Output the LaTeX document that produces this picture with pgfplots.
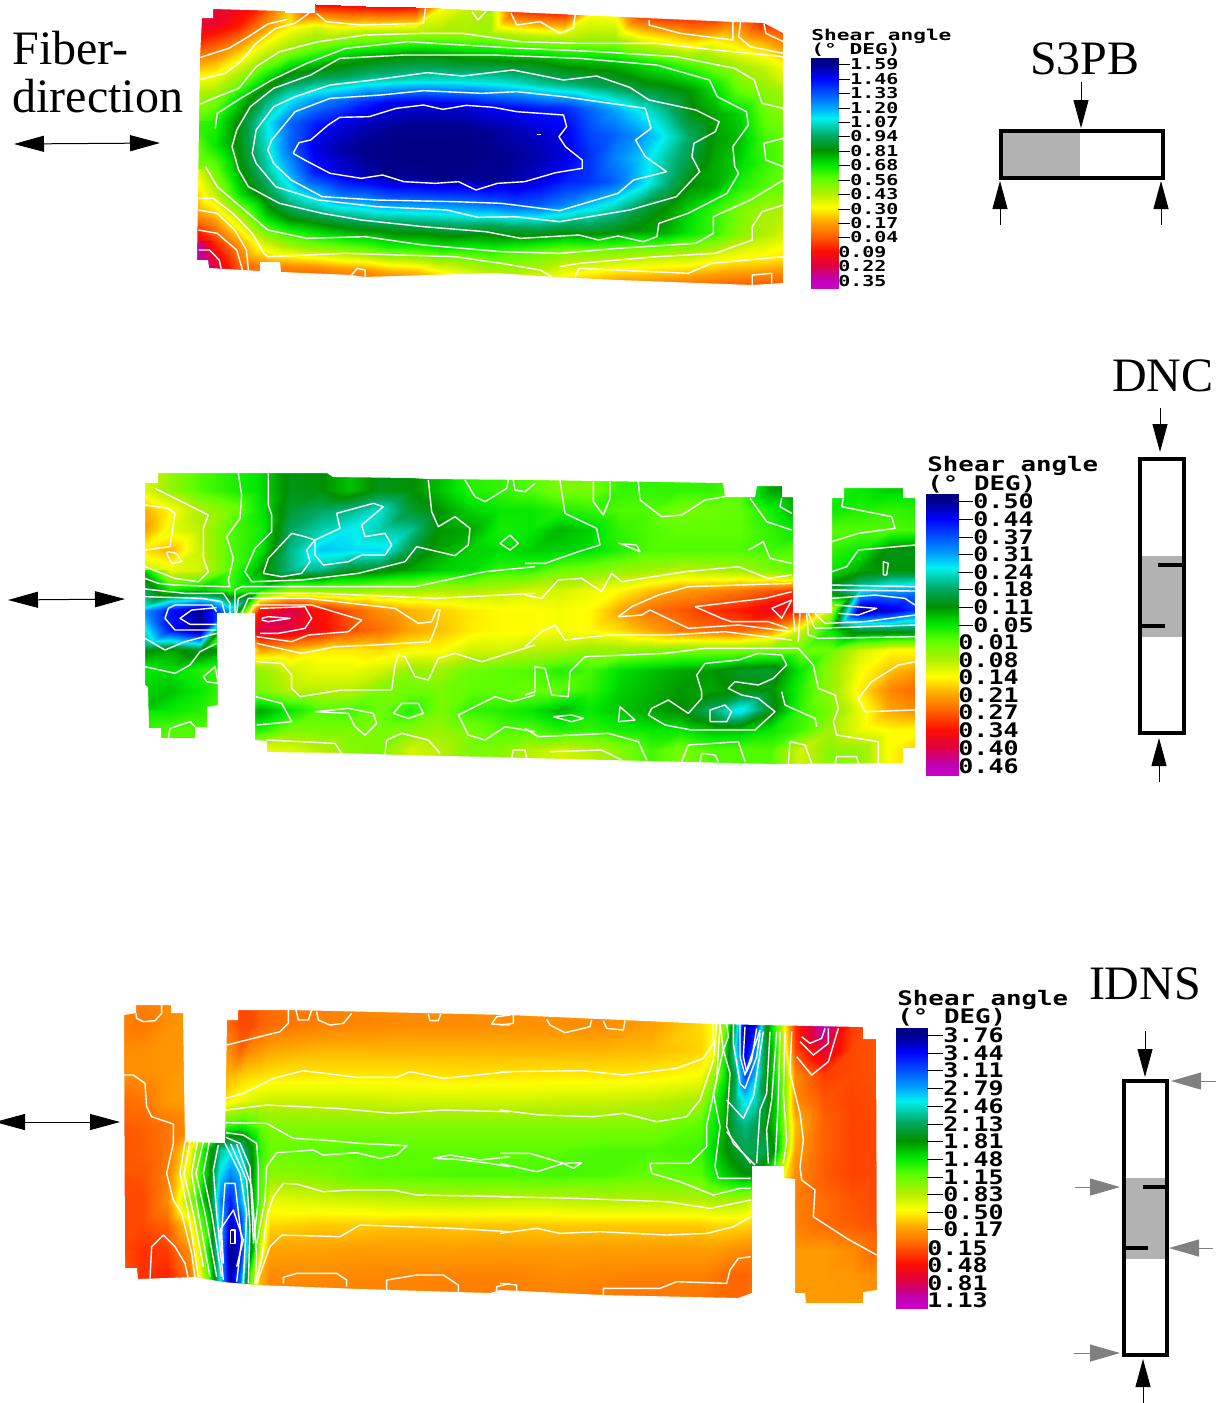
\documentclass[border=0pt]{standalone}
\usepackage{graphicx}
\usepackage{fontspec}
\setmainfont{Liberation Serif}
\newfontfamily\lbf{DejaVu Sans Mono}
\usepackage{pgfplots}
\pgfplotsset{compat=1.18}
\usetikzlibrary{arrows.meta}
\pgfplotsset{
 colormap={cm}{rgb255(0)=(0,0,128) rgb255(25)=(0,0,144) rgb255(87)=(0,0,255) rgb255(150)=(0,80,255) rgb255(212)=(0,160,255) rgb255(262)=(0,240,240) rgb255(337)=(0,168,96) rgb255(400)=(0,144,0) rgb255(462)=(0,232,0) rgb255(525)=(96,255,0) rgb255(587)=(176,240,0) rgb255(650)=(255,255,0) rgb255(712)=(255,165,0) rgb255(775)=(255,96,0) rgb255(837)=(255,16,0) rgb255(900)=(224,0,64) rgb255(962)=(192,0,176) rgb255(1000)=(204,0,204)},
 base/.style={x=0.5pt,y=0.5pt,y dir=reverse,xmin=0,xmax=1220,ymin=0,ymax=1403,hide axis,clip=false,
   anchor=north west,at={(0,0)},colormap name=cm,point meta=explicit},
 ct/.style={white,line width=0.7pt,no markers,line join=round,sharp plot},
 table/za/.style={row sep=crcr,header=false,x expr={\thisrowno{0}/2.57+190},y expr={\thisrowno{1}/3}},
 table/zb/.style={row sep=crcr,header=false,x expr={\thisrowno{0}/3+135},y expr={\thisrowno{1}/3+465}},
 table/zc/.style={row sep=crcr,header=false,x expr={\thisrowno{0}/3+525},y expr={\thisrowno{1}/3+465}},
 table/zd/.style={row sep=crcr,header=false,x expr={\thisrowno{0}/3+110},y expr={\thisrowno{1}/3+1000}},
 table/ze/.style={row sep=crcr,header=false,x expr={\thisrowno{0}/3+500},y expr={\thisrowno{1}/3+1000}},
}
\newcommand\Ca[1]{\addplot[ct] table[za]{#1};}
\newcommand\Cb[1]{\addplot[ct] table[zb]{#1};}
\newcommand\Cc[1]{\addplot[ct] table[zc]{#1};}
\newcommand\Cd[1]{\addplot[ct] table[zd]{#1};}
\newcommand\Ce[1]{\addplot[ct] table[ze]{#1};}
\newcommand\smallL[2][1.33]{{\lbf\bfseries\fontsize{7.5}{8}\selectfont\scalebox{#1}[1]{#2}}}
\newcommand\bigL[2][1.25]{{\lbf\bfseries\fontsize{10}{11}\selectfont\scalebox{#1}[1]{#2}}}
\newcommand\tkA[2]{\draw[black,line width=0.5pt](axis cs:838,#1)--(axis cs:850,#1);\node[anchor=west,inner sep=0pt] at (axis cs:850,#1) {\smallL{#2}};}
\newcommand\lbA[2]{\node[anchor=west,inner sep=0pt] at (axis cs:838,#1) {\smallL{#2}};}
\newcommand\tkB[2]{\draw[black,line width=0.5pt](axis cs:958,#1)--(axis cs:973,#1);\node[anchor=west,inner sep=0pt] at (axis cs:973,#1) {\bigL{#2}};}
\newcommand\lbB[2]{\node[anchor=west,inner sep=0pt] at (axis cs:958,#1) {\bigL{#2}};}
\newcommand\tkC[2]{\draw[black,line width=0.5pt](axis cs:927,#1)--(axis cs:943,#1);\node[anchor=west,inner sep=0pt] at (axis cs:943,#1) {\bigL{#2}};}
\newcommand\lbC[2]{\node[anchor=west,inner sep=0pt] at (axis cs:927,#1) {\bigL{#2}};}
\tikzset{bk/.style={-{Triangle[length=14pt,width=7.5pt]},line width=0.5pt,black},
 gy/.style={-{Triangle[length=15pt,width=8.5pt]},line width=0.5pt,gray},
 dbl/.style={{Triangle[length=15pt,width=8pt]}-{Triangle[length=15pt,width=8pt]},line width=0.5pt,black},
 big/.style={font=\fontsize{24}{27}\selectfont,inner sep=0pt}}
\begin{document}
\begin{tikzpicture}
\path[use as bounding box] (0,0) rectangle (610pt,-701.5pt);
%%%%%%%%%%%%%%%%%%%% S3PB
\begin{axis}[base,point meta min=-1.64,point meta max=0.41]
\addplot[surf,shader=interp,mesh/cols=25] table[row sep=crcr,header=false,meta index=0,
  x expr={190+25*mod(\coordindex,25)},
  y expr={24*floor(\coordindex/25)+0.825*mod(\coordindex,25)}] {
.2\\.2\\.15\\.05\\-.2\\.1\\.1\\.1\\.1\\.08\\-.3\\-.4\\-.45\\.02\\.05\\.08\\-.3\\-.3\\.02\\.05\\.05\\.05\\-.05\\.1\\.1\\
.18\\.15\\.05\\-.15\\-.3\\-.38\\-.35\\-.4\\-.42\\-.42\\-.45\\-.45\\-.47\\-.43\\-.42\\-.4\\-.45\\-.45\\-.35\\-.3\\-.25\\-.3\\-.25\\-.2\\-.1\\
0\\-.08\\-.22\\-.38\\-.5\\-.6\\-.7\\-.75\\-.8\\-.82\\-.82\\-.8\\-.8\\-.8\\-.8\\-.75\\-.75\\-.75\\-.7\\-.65\\-.6\\-.52\\-.45\\-.4\\-.3\\
-.25\\-.3\\-.45\\-.65\\-.85\\-.9\\-.94\\-1.0\\-1.03\\-1.05\\-1.07\\-1.08\\-1.08\\-1.06\\-1.02\\-.98\\-.95\\-.92\\-.87\\-.85\\-.8\\-.7\\-.55\\-.5\\-.45\\
-.45\\-.5\\-.72\\-.95\\-1.1\\-1.22\\-1.3\\-1.4\\-1.48\\-1.5\\-1.5\\-1.5\\-1.46\\-1.45\\-1.42\\-1.4\\-1.3\\-1.2\\-1.1\\-1.0\\-.85\\-.78\\-.72\\-.55\\-.5\\
-.55\\-.65\\-.85\\-1.08\\-1.3\\-1.42\\-1.5\\-1.55\\-1.58\\-1.6\\-1.6\\-1.6\\-1.58\\-1.55\\-1.52\\-1.48\\-1.35\\-1.3\\-1.22\\-1.1\\-.95\\-.8\\-.75\\-.6\\-.55\\
-.6\\-.68\\-.85\\-1.05\\-1.3\\-1.5\\-1.56\\-1.6\\-1.62\\-1.63\\-1.63\\-1.63\\-1.6\\-1.58\\-1.55\\-1.5\\-1.38\\-1.25\\-1.15\\-1.02\\-.9\\-.78\\-.72\\-.62\\-.55\\
-.45\\-.55\\-.8\\-1.0\\-1.2\\-1.42\\-1.5\\-1.55\\-1.6\\-1.6\\-1.62\\-1.6\\-1.6\\-1.56\\-1.5\\-1.42\\-1.38\\-1.3\\-1.15\\-.98\\-.82\\-.78\\-.65\\-.58\\-.55\\
-.3\\-.42\\-.7\\-.88\\-1.05\\-1.15\\-1.25\\-1.25\\-1.3\\-1.3\\-1.3\\-1.3\\-1.32\\-1.35\\-1.32\\-1.25\\-1.15\\-1.05\\-.92\\-.82\\-.72\\-.62\\-.52\\-.45\\-.42\\
-.1\\-.2\\-.42\\-.7\\-.82\\-.85\\-.9\\-.93\\-.93\\-.95\\-.95\\-.95\\-.92\\-.93\\-.93\\-.9\\-.9\\-.85\\-.8\\-.78\\-.68\\-.62\\-.5\\-.43\\-.35\\
.18\\.02\\-.18\\-.4\\-.5\\-.55\\-.58\\-.6\\-.65\\-.65\\-.68\\-.65\\-.65\\-.6\\-.55\\-.5\\-.5\\-.48\\-.45\\-.42\\-.4\\-.35\\-.3\\-.28\\-.25\\
.38\\.2\\-.05\\-.12\\-.12\\-.12\\-.15\\-.15\\-.2\\-.22\\-.3\\-.35\\-.42\\-.42\\-.38\\-.3\\-.25\\-.2\\-.18\\-.15\\-.12\\-.1\\-.08\\-.05\\-.05\\
.38\\.15\\-.02\\.05\\.05\\.05\\.05\\.05\\.05\\.03\\0\\-.1\\-.1\\-.12\\-.1\\-.1\\-.05\\.05\\.05\\.05\\.05\\.05\\.05\\.05\\.05\\
};
\addplot[fill=white,draw=none,even odd rule] coordinates {(185,-5)(800,-5)(800,312)(185,312)(185,-5)
(202,18)(213,18)(213,9)(285,11)(285,13)(315,13)(315,3)(423,7)(470,10)(579,15)(735,22)(764,23)(783,33)(783,283)(752,285)(618,280)(556,277)(494,273)(365,277)(351,275)(281,272)(280,262)(260,262)(260,271)(209,268)(208,260)(197,260)(200,57)(202,18)(185,-5)};
\Ca{27 172\\100 145\\150 110\\200 72\\250 58\\}
\Ca{27 238\\90 220\\130 185\\170 130\\220 85\\270 70\\305 40\\}
\Ca{27 312\\60 295\\125 265\\170 200\\230 155\\330 125\\450 105\\600 100\\700 100\\850 125\\1000 130\\1200 130\\1350 150\\1525 170\\}
\Ca{65 385\\70 340\\130 295\\210 240\\300 190\\400 145\\560 125\\700 135\\850 145\\1050 155\\1250 170\\1400 205\\1450 240\\1470 310\\1525 325\\}
\Ca{108 440\\120 390\\155 320\\215 265\\310 225\\385 175\\550 165\\780 165\\1000 175\\1200 195\\1335 240\\1355 290\\1430 335\\1435 375\\1395 440\\1400 500\\1410 520\\1380 580\\1280 640\\1205 670\\1200 710\\1165 725\\1100 708\\1050 720\\1000 705\\850 715\\760 695\\600 680\\440 660\\340 640\\230 610\\150 560\\125 510\\108 440\\}
\Ca{160 460\\170 390\\215 320\\270 290\\360 255\\470 240\\610 218\\700 228\\830 210\\960 240\\1045 228\\1130 262\\1180 300\\1300 330\\1360 365\\1350 395\\1295 430\\1290 470\\1310 515\\1250 590\\1130 630\\950 665\\835 650\\740 652\\660 630\\480 620\\330 600\\220 560\\170 490\\160 460\\}
\Ca{210 420\\270 335\\360 295\\490 285\\600 272\\750 280\\840 275\\960 290\\1050 305\\1170 325\\1185 385\\1145 420\\1170 470\\1225 515\\1140 540\\1100 580\\950 632\\800 610\\680 605\\480 600\\340 590\\260 540\\215 490\\200 450\\210 420\\}
\Ca{265 460\\280 428\\310 420\\355 375\\385 352\\460 350\\530 325\\600 315\\650 328\\710 316\\780 322\\840 335\\960 345\\968 380\\948 410\\965 440\\1008 480\\1008 505\\940 518\\860 545\\790 550\\735 570\\690 545\\630 550\\550 545\\495 525\\440 535\\360 520\\295 480\\265 460\\}
\Ca{40 500\\70 560\\130 620\\200 690\\300 715\\450 710\\600 735\\800 755\\950 760\\1100 745\\1300 730\\1345 700\\1345 650\\1440 600\\1525 540\\}
\Ca{22 595\\60 595\\110 640\\160 700\\190 760\\200 770\\400 760\\680 770\\800 790\\900 810\\930 830\\}
\Ca{22 630\\70 640\\115 690\\145 750\\150 810\\}
\Ca{22 690\\70 700\\120 750\\135 810\\}
\Ca{22 750\\50 750\\75 780\\80 805\\}
\Ca{1180 60\\1180 75\\1260 100\\1395 120\\1395 65\\}
\Ca{1415 65\\1410 110\\1440 140\\1525 160\\}
\Ca{1475 70\\1480 100\\1525 125\\}
\Ca{325 40\\350 65\\440 75\\600 70\\605 25\\}
\Ca{725 35\\740 60\\760 35\\}
\Ca{825 40\\840 75\\900 65\\950 100\\985 85\\990 45\\}
\Ca{990 830\\1000 805\\1280 820\\1340 790\\1525 770\\}
\Ca{1445 855\\1445 825\\1495 820\\1495 850\\}
\Ca{415 825\\430 805\\450 810\\450 830\\}
\Ca{1525 415\\1475 430\\1480 480\\1525 500\\}
\Ca{1525 615\\1470 635\\1445 680\\1445 720\\1350 760\\1200 770\\1000 790\\950 800\\}
\Ca{892 403\\902 403\\}
\addplot[surf,shader=interp,mesh/cols=2] table[row sep=crcr,header=false,meta index=0,
  x expr={811+27*mod(\coordindex,2)},y expr={58+(\thisrowno{0}+1.64)/2.05*230}] {
-1.64\\-1.64\\-1.59\\-1.59\\-1.46\\-1.46\\-1.33\\-1.33\\-1.20\\-1.20\\-1.07\\-1.07\\-.94\\-.94\\-.81\\-.81\\-.68\\-.68\\-.56\\-.56\\-.43\\-.43\\-.30\\-.30\\-.17\\-.17\\-.04\\-.04\\.09\\.09\\.22\\.22\\.35\\.35\\.41\\.41\\};
\node[anchor=west,inner sep=0pt] at (axis cs:811,36) {\smallL[1.41]{Shear angle}};
\node[anchor=west,inner sep=0pt] at (axis cs:811,50) {\smallL[1.41]{(° DEG)}};
\tkA{64}{1.59}\tkA{79}{1.46}\tkA{93}{1.33}\tkA{108}{1.20}\tkA{122}{1.07}\tkA{136}{0.94}\tkA{151}{0.81}\tkA{165}{0.68}\tkA{180}{0.56}\tkA{194}{0.43}\tkA{209}{0.30}\tkA{223}{0.17}\tkA{237}{0.04}
\lbA{252}{0.09}\lbA{266}{0.22}\lbA{281}{0.35}
\node[big,anchor=west] at (axis cs:12,48) {Fiber-};
\node[big,anchor=west] at (axis cs:12,96) {direction};
\node[big] at (axis cs:1085,59) {S3PB};
\draw[dbl] (axis cs:14,144)--(axis cs:160,143);
\fill[black!30] (axis cs:1001,131) rectangle (axis cs:1080,178);
\draw[line width=2pt] (axis cs:1001,131) rectangle (axis cs:1163,178);
\draw[bk] (axis cs:1081,82)--(axis cs:1081,128);
\draw[bk] (axis cs:1000,225)--(axis cs:1000,181);
\draw[bk] (axis cs:1161,225)--(axis cs:1161,181);
\end{axis}
%%%%%%%%%%%%%%%%%%%% DNC
\begin{axis}[base,point meta min=-0.522,point meta max=0.492]
\addplot[surf,shader=interp,mesh/cols=27] table[row sep=crcr,header=false,meta index=0,
  x expr={140+30*mod(\coordindex,27)},y expr={470+20*floor(\coordindex/27)}] {
.12\\.05\\0\\-.03\\-.06\\-.13\\-.12\\-.08\\-.13\\-.12\\-.08\\-.03\\-.02\\0\\.03\\.03\\-.02\\-.02\\-.02\\-.02\\0\\-.1\\-.12\\-.03\\-.05\\-.07\\-.07\\
.12\\.05\\0\\-.03\\-.06\\-.13\\-.12\\-.08\\-.13\\-.12\\-.08\\-.03\\-.02\\0\\.03\\.03\\-.02\\-.02\\-.02\\-.02\\0\\-.1\\-.12\\-.03\\-.05\\-.07\\-.07\\
.2\\.14\\.07\\.03\\-.05\\-.15\\-.18\\-.2\\-.24\\-.15\\-.11\\-.07\\-.05\\-.05\\-.03\\-.02\\0\\0\\.03\\.02\\.01\\-.04\\-.1\\-.05\\-.03\\-.02\\-.03\\
.22\\.12\\.08\\0\\-.04\\-.18\\-.22\\-.26\\-.22\\-.21\\-.11\\-.1\\-.04\\-.05\\-.09\\-.07\\-.02\\0\\.01\\.01\\.01\\-.02\\-.05\\0\\0\\0\\-.01\\
.15\\.19\\.09\\0\\-.05\\-.2\\-.28\\-.27\\-.27\\-.16\\-.1\\-.07\\-.06\\-.07\\-.07\\-.06\\-.03\\0\\0\\0\\0\\-.01\\0\\-.02\\-.05\\-.13\\-.13\\
.08\\.12\\.1\\0\\-.1\\-.2\\-.2\\-.14\\-.13\\-.1\\-.07\\-.06\\-.02\\-.02\\.02\\.03\\.05\\.06\\.08\\.07\\.06\\.03\\0\\-.05\\-.1\\-.12\\-.12\\
-.1\\-.05\\-.08\\-.02\\-.04\\.05\\.04\\.04\\.06\\.06\\.07\\.07\\.08\\.1\\.1\\.12\\.14\\.18\\.21\\.22\\.24\\.27\\.3\\-.15\\-.25\\-.3\\-.32\\
-.28\\-.42\\-.49\\-.3\\.33\\.4\\.33\\.27\\.22\\.19\\.17\\.15\\.14\\.14\\.13\\.14\\.2\\.25\\.27\\.3\\.32\\.36\\.32\\.1\\-.5\\-.46\\-.38\\
-.3\\-.42\\-.5\\.1\\.4\\.38\\.34\\.28\\.25\\.2\\.18\\.15\\.14\\.14\\.13\\.14\\.16\\.2\\.24\\.25\\.26\\.22\\.1\\-.05\\-.15\\-.15\\-.15\\
-.13\\-.1\\-.14\\-.1\\.2\\.18\\.15\\.15\\.16\\.14\\.14\\.1\\.1\\.08\\.07\\.05\\.05\\.04\\.03\\.03\\.03\\.02\\.02\\.02\\.1\\.14\\.14\\
-.05\\-.06\\-.03\\0\\.05\\.1\\.12\\.12\\.1\\.05\\.06\\.02\\.01\\0\\-.03\\-.01\\-.06\\-.08\\-.1\\-.11\\-.14\\-.15\\-.05\\.05\\.13\\.18\\.21\\
-.05\\-.08\\-.05\\0\\.03\\.08\\.08\\.08\\.03\\.02\\.03\\.01\\.01\\.02\\.01\\-.02\\-.07\\-.09\\-.11\\-.1\\-.12\\-.12\\-.03\\.05\\.15\\.23\\.26\\
-.08\\-.05\\-.03\\0\\-.1\\-.05\\0\\-.01\\.02\\-.03\\.03\\-.02\\-.03\\-.05\\-.09\\-.05\\-.08\\-.1\\-.12\\-.18\\-.27\\-.14\\-.02\\.03\\.12\\.2\\.22\\
-.05\\0\\0\\0\\-.03\\.03\\.03\\.03\\.03\\.04\\.05\\.03\\0\\0\\-.03\\-.02\\-.04\\-.05\\-.05\\-.08\\-.08\\-.05\\-.01\\.06\\.12\\.14\\.14\\
0\\0\\0\\.08\\.12\\.11\\.08\\.04\\.03\\.1\\.08\\.03\\.04\\.08\\.1\\.08\\.04\\-.01\\.03\\0\\0\\0\\.1\\.04\\.05\\.14\\.18\\
0\\0\\0\\.08\\.12\\.11\\.08\\.04\\.03\\.1\\.08\\.03\\.04\\.08\\.1\\.08\\.04\\-.01\\.03\\0\\0\\0\\.1\\.04\\.05\\.14\\.18\\
};
\addplot[fill=white,draw=none,even odd rule] coordinates {(135,465)(925,465)(925,775)(135,775)(135,465)
(145,483)(158,483)(158,473)(327,473)(333,477)(412,478)(428,479)(535,480)(723,483)(725,497)(755,497)(757,486)(782,486)(782,497)(793,497)(793,613)(832,613)(832,498)(844,498)(844,488)(903,488)(903,498)(915,498)(915,748)(903,748)(903,763)(773,764)(525,758)(493,757)(402,755)(342,753)(267,752)(267,741)(255,740)(255,613)(217,613)(218,705)(207,707)(207,727)(195,727)(195,738)(161,738)(161,728)(149,728)(148,687)(145,685)(145,483)(135,465)};
\Cb{30 120\\100 130\\120 145\\105 245\\30 255\\}
\Cb{100 260\\125 265\\140 290\\110 295\\95 265\\100 260\\}
\Cb{60 70\\130 105\\220 150\\205 190\\205 280\\220 320\\190 350\\120 340\\30 305\\}
\Cb{310 25\\320 90\\315 160\\275 215\\295 280\\280 345\\285 365\\270 365\\120 360\\70 355\\30 340\\}
\Cb{30 372\\150 385\\265 385\\285 415\\285 445\\}
\Cb{30 395\\200 400\\260 410\\270 445\\}
\Cb{400 25\\400 120\\410 150\\410 200\\360 250\\330 320\\350 350\\500 345\\670 325\\810 290\\845 245\\960 272\\1000 240\\1005 190\\960 155\\910 185\\890 140\\880 45\\}
\Cb{990 45\\1020 95\\1050 110\\1115 70\\1120 45\\}
\Cb{1135 45\\1140 75\\1170 80\\1200 55\\}
\Cb{385 325\\400 280\\470 205\\510 215\\540 225\\615 190\\605 145\\715 115\\745 125\\680 180\\690 215\\750 205\\770 240\\750 270\\680 270\\640 290\\565 300\\540 270\\540 225\\515 255\\525 290\\500 325\\440 335\\385 325\\}
\Cb{1095 235\\1125 210\\1150 235\\1125 255\\1095 235\\}
\Cb{300 445\\300 375\\320 365\\500 365\\840 365\\1050 320\\1200 305\\}
\Cb{305 445\\310 400\\340 385\\560 385\\900 400\\1200 385\\}
\Cb{320 445\\340 400\\520 400\\780 430\\850 475\\890 470\\905 435\\915 435\\905 480\\885 530\\720 540\\600 545\\500 565\\365 535\\}
\Cb{345 445\\355 420\\530 420\\680 465\\640 500\\520 510\\470 530\\365 515\\}
\Cb{375 430\\510 425\\530 460\\510 490\\430 505\\375 505\\}
\Cb{380 460\\400 455\\465 460\\400 470\\380 465\\}
\Cb{245 440\\230 420\\120 420\\100 430\\90 460\\120 495\\245 495\\}
\Cb{245 428\\170 435\\135 460\\165 478\\245 478\\}
\Cb{30 520\\90 555\\150 530\\245 505\\}
\Cb{30 605\\120 625\\165 600\\195 560\\245 535\\}
\Cb{205 635\\240 605\\250 655\\215 650\\205 635\\}
\Cb{365 590\\440 595\\470 630\\470 670\\495 695\\620 675\\770 675\\780 600\\790 570\\810 575\\840 635\\880 645\\910 580\\960 565\\1040 590\\1200 540\\}
\Cb{100 820\\105 790\\165 770\\180 785\\}
\Cb{362 695\\440 715\\470 770\\365 780\\}
\Cb{540 740\\640 745\\660 785\\690 810\\725 775\\715 745\\640 730\\540 740\\}
\Cb{775 745\\800 715\\850 715\\865 745\\820 760\\775 745\\}
\Cb{1200 690\\1130 710\\1080 695\\970 750\\1000 810\\1050 825\\1110 785\\1200 800\\}
\Cb{395 825\\600 835\\620 865\\}
\Cb{750 870\\755 825\\800 805\\880 825\\915 865\\}
\Cb{1130 880\\1135 855\\1170 855\\1175 880\\}
\Cc{0 295\\60 295\\160 260\\225 240\\215 190\\120 145\\105 45\\}
\Cc{205 50\\205 110\\235 150\\255 100\\255 50\\}
\Cc{340 50\\345 105\\410 155\\470 150\\540 105\\600 95\\}
\Cc{280 235\\335 240\\345 260\\285 235\\}
\Cc{670 255\\715 230\\735 280\\800 295\\}
\Cc{675 100\\725 170\\800 195\\}
\Cc{770 100\\765 125\\800 145\\}
\Cc{920 230\\1000 205\\1110 190\\1100 155\\950 125\\955 100\\}
\Cc{920 320\\965 305\\1000 255\\1170 240\\}
\Cc{1075 330\\1075 290\\1090 295\\1085 330\\1075 330\\}
\Cc{920 360\\1170 365\\}
\Cc{920 375\\1170 378\\}
\Cc{920 400\\1050 390\\1140 400\\1170 420\\}
\Cc{930 420\\1055 430\\1000 450\\940 445\\}
\Cc{870 445\\900 475\\1020 470\\1170 450\\}
\Cc{850 445\\870 490\\1170 480\\}
\Cc{845 445\\850 510\\880 520\\1170 515\\}
\Cc{805 445\\810 500\\}
\Cc{825 445\\820 530\\}
\Cc{0 390\\50 400\\100 345\\170 340\\230 380\\260 325\\290 350\\480 320\\640 305\\730 340\\800 330\\}
\Cc{280 455\\320 425\\400 390\\490 365\\800 355\\}
\Cc{280 455\\350 450\\375 435\\490 490\\640 480\\800 500\\}
\Cc{510 425\\720 400\\800 380\\}
\Cc{510 425\\590 460\\620 470\\730 470\\790 490\\}
\Cc{740 430\\800 405\\770 460\\740 430\\}
\Cc{0 545\\50 500\\90 480\\120 525\\250 510\\430 510\\600 500\\800 525\\}
\Cc{0 690\\30 680\\30 605\\60 610\\80 690\\130 695\\135 620\\180 575\\420 565\\540 550\\820 550\\865 600\\880 670\\930 690\\940 730\\925 770\\935 810\\1060 830\\1060 895\\}
\Cc{515 630\\540 595\\640 585\\700 565\\770 570\\785 600\\745 640\\700 660\\630 650\\610 670\\650 690\\700 700\\750 740\\690 795\\500 795\\420 780\\370 750\\380 730\\430 705\\490 745\\530 700\\530 680\\515 630\\}
\Cc{555 770\\555 735\\600 720\\620 740\\605 770\\555 770\\}
\Cc{85 755\\140 750\\175 760\\140 770\\85 755\\}
\Cc{280 770\\285 725\\330 765\\280 770\\}
\Cc{0 790\\40 815\\250 805\\340 830\\365 885\\}
\Cc{75 860\\230 855\\290 885\\}
\Cc{470 890\\490 840\\640 830\\660 890\\}
\Cc{525 890\\530 865\\570 870\\580 890\\}
\Cc{790 895\\795 830\\840 840\\860 895\\}
\Cc{930 895\\935 875\\995 875\\1000 895\\}
\Cc{1170 590\\1120 600\\1040 650\\1000 700\\1020 740\\1170 735\\}
\Cc{770 680\\780 720\\870 760\\875 785\\}
\addplot[surf,shader=interp,mesh/cols=2] table[row sep=crcr,header=false,meta index=0,
  x expr={926+32*mod(\coordindex,2)},y expr={494+(\thisrowno{0}+0.522)/1.014*281}] {
-.522\\-.522\\-.50\\-.50\\-.44\\-.44\\-.37\\-.37\\-.31\\-.31\\-.24\\-.24\\-.18\\-.18\\-.11\\-.11\\-.05\\-.05\\.01\\.01\\.08\\.08\\.14\\.14\\.21\\.21\\.27\\.27\\.34\\.34\\.40\\.40\\.46\\.46\\.492\\.492\\};
\node[anchor=west,inner sep=0pt] at (axis cs:927,466) {\bigL[1.29]{Shear angle}};
\node[anchor=west,inner sep=0pt] at (axis cs:927,484) {\bigL[1.29]{(° DEG)}};
\tkB{501}{0.50}\tkB{519}{0.44}\tkB{537}{0.37}\tkB{554}{0.31}\tkB{572}{0.24}\tkB{589}{0.18}\tkB{607}{0.11}\tkB{625}{0.05}
\lbB{642}{0.01}\lbB{660}{0.08}\lbB{677}{0.14}\lbB{695}{0.21}\lbB{712}{0.27}\lbB{730}{0.34}\lbB{748}{0.40}\lbB{766}{0.46}
\node[big] at (axis cs:1163,376) {DNC};
\draw[dbl] (axis cs:8,600)--(axis cs:125,599);
\fill[black!30] (axis cs:1140,556) rectangle (axis cs:1184,637);
\draw[line width=2pt] (axis cs:1140,459) rectangle (axis cs:1184,733);
\draw[line width=2pt] (axis cs:1158,565)--(axis cs:1184,565);
\draw[line width=2pt] (axis cs:1140,626)--(axis cs:1165,626);
\draw[bk] (axis cs:1160,408)--(axis cs:1160,452);
\draw[bk] (axis cs:1159,782)--(axis cs:1159,738);
\end{axis}
%%%%%%%%%%%%%%%%%%%% IDNS
\begin{axis}[base,point meta min=-3.88,point meta max=1.26]
\addplot[surf,shader=interp,mesh/cols=33] table[row sep=crcr,header=false,meta index=0,
  x expr={120+23.33*min(mod(\coordindex,33),3)+10*max(min(mod(\coordindex,33),11)-3,0)+47.8*max(min(mod(\coordindex,33),20)-11,0)+15*max(min(mod(\coordindex,33),21)-20,0)+10*max(min(mod(\coordindex,33),29)-21,0)+28.33*max(mod(\coordindex,33)-29,0)},
  y expr={1000+25*floor(\coordindex/33)}] {
-.1\\-.05\\-.1\\-.15\\-.15\\-.15\\-.12\\.08\\.2\\.2\\.1\\.05\\-.05\\-.08\\-.1\\-.1\\-.12\\-.12\\-.1\\-.2\\-.4\\-.6\\-1.1\\-2.2\\-3.7\\-3.4\\-2.0\\-1.3\\-.5\\.3\\1.15\\.25\\.15\\
-.05\\0\\-.12\\-.15\\-.15\\-.15\\-.12\\.08\\.2\\.2\\.1\\.05\\-.05\\-.08\\-.1\\-.1\\-.12\\-.12\\-.1\\-.2\\-.4\\-.6\\-1.1\\-2.2\\-3.7\\-3.4\\-2.0\\-1.3\\-.5\\.3\\1.15\\.25\\.15\\
-.1\\-.12\\-.15\\-.15\\-.15\\-.15\\-.15\\-.1\\.08\\-.1\\-.15\\-.22\\-.28\\-.28\\-.28\\-.28\\-.28\\-.28\\-.28\\-.3\\-.38\\-.6\\-1.5\\-2.5\\-3.6\\-2.9\\-2.0\\-1.5\\-.6\\.2\\.7\\.2\\.15\\
-.12\\-.12\\-.15\\-.2\\-.2\\-.2\\-.22\\-.3\\-.35\\-.4\\-.42\\-.45\\-.46\\-.46\\-.45\\-.43\\-.45\\-.46\\-.46\\-.48\\-.55\\-1.0\\-1.5\\-2.1\\-3.2\\-2.7\\-1.9\\-1.5\\-1.0\\-.1\\.25\\.2\\.15\\
.05\\0\\-.17\\-.2\\-.3\\-.3\\-.35\\-.5\\-.6\\-.68\\-.72\\-.75\\-.75\\-.75\\-.72\\-.72\\-.72\\-.75\\-.75\\-.8\\-.9\\-1.4\\-1.7\\-2.2\\-2.6\\-2.4\\-2.0\\-1.6\\-1.0\\-.1\\.15\\.22\\.17\\
.12\\.1\\0\\-.1\\-.4\\-.8\\-1.2\\-1.3\\-1.4\\-1.3\\-1.15\\-1.05\\-1.05\\-1.05\\-1.05\\-1.05\\-1.05\\-1.05\\-1.05\\-1.05\\-1.2\\-1.5\\-1.75\\-2.1\\-2.25\\-2.1\\-1.9\\-1.6\\-1.0\\-.3\\.1\\.22\\.2\\
.15\\.12\\0\\-.55\\-1.3\\-1.75\\-2.3\\-2.5\\-2.4\\-1.9\\-1.35\\-1.15\\-1.2\\-1.22\\-1.2\\-1.2\\-1.2\\-1.2\\-1.25\\-1.25\\-1.3\\-1.6\\-1.8\\-1.95\\-2.1\\-2.1\\-2.1\\-1.8\\-1.0\\-.2\\.1\\.22\\.2\\
.15\\.15\\-.05\\-.75\\-1.3\\-1.85\\-2.6\\-2.9\\-2.7\\-1.95\\-1.25\\-1.0\\-1.05\\-1.2\\-1.22\\-1.25\\-1.25\\-1.28\\-1.25\\-1.15\\-1.2\\-1.45\\-1.6\\-1.7\\-1.8\\-1.8\\-1.5\\-1.0\\-.5\\-.1\\.12\\.22\\.2\\
.18\\.2\\-.1\\-1.0\\-1.5\\-1.9\\-2.9\\-3.3\\-2.8\\-1.9\\-1.2\\-.65\\-.7\\-.75\\-.8\\-.82\\-.8\\-.8\\-.85\\-.85\\-.85\\-.9\\-.9\\-.9\\-.85\\-.7\\-.3\\-.2\\-.1\\-.05\\.05\\.15\\.2\\
.2\\.2\\.1\\-.45\\-1.1\\-1.6\\-2.7\\-3.6\\-3.3\\-1.9\\-.9\\-.4\\-.35\\-.35\\-.32\\-.34\\-.33\\-.35\\-.35\\-.35\\-.35\\-.4\\-.4\\-.4\\-.4\\-.35\\-.2\\-.15\\-.1\\-.05\\.05\\.12\\.17\\
.2\\.3\\.25\\-.15\\-.8\\-1.7\\-2.7\\-3.8\\-3.5\\-2.0\\-.7\\-.2\\-.2\\-.18\\-.18\\-.18\\-.18\\-.18\\-.18\\-.18\\-.18\\-.17\\-.15\\-.12\\-.1\\-.1\\-.15\\-.17\\-.17\\-.17\\-.17\\-.1\\.1\\
.15\\.3\\.35\\0\\-.55\\-1.4\\-2.6\\-3.7\\-3.0\\-1.3\\-.3\\-.1\\-.1\\-.08\\-.08\\-.05\\-.05\\-.1\\-.08\\-.05\\-.05\\0\\.05\\.08\\.1\\0\\-.1\\-.17\\-.17\\-.17\\-.17\\-.15\\-.1\\
.1\\.2\\.2\\0\\-.3\\-1.0\\-2.4\\-3.6\\-2.8\\-1.0\\-.2\\-.05\\-.05\\-.05\\-.05\\-.03\\-.03\\-.05\\0\\0\\0\\.05\\.05\\.05\\.05\\0\\-.1\\-.17\\-.17\\-.17\\-.17\\-.17\\-.15\\
.1\\.2\\.2\\0\\-.3\\-1.0\\-2.4\\-3.6\\-2.8\\-1.0\\-.2\\-.05\\-.05\\-.05\\-.05\\-.03\\-.03\\-.05\\0\\0\\0\\.05\\.05\\.05\\.05\\0\\-.1\\-.17\\-.17\\-.17\\-.17\\-.17\\-.15\\
};
\addplot[fill=white,draw=none,even odd rule] coordinates {(115,995)(885,995)(885,1330)(115,1330)(115,995)
(124,1015)(136,1013)(136,1005)(171,1005)(171,1013)(183,1013)(185,1142)(225,1143)(227,1020)(238,1020)(238,1010)(290,1010)(510,1015)(713,1024)(863,1027)(863,1039)(876,1039)(877,1290)(863,1292)(863,1303)(806,1303)(805,1293)(795,1293)(795,1179)(784,1178)(784,1166)(752,1166)(752,1293)(738,1298)(603,1295)(500,1290)(490,1293)(360,1289)(257,1285)(223,1282)(195,1277)(138,1279)(137,1268)(125,1268)(125,1258)(124,1015)(115,995)};
\Cd{78 40\\80 55\\100 65\\135 62\\155 40\\155 15\\}
\Cd{42 225\\70 225\\105 250\\110 320\\125 350\\190 372\\190 430\\170 520\\190 600\\215 640\\245 760\\255 832\\}
\Cd{120 835\\125 740\\160 705\\195 740\\225 790\\235 835\\}
\Cd{350 135\\410 120\\510 95\\535 70\\535 30\\}
\Cd{558 30\\565 60\\595 60\\605 30\\}
\Cd{620 35\\625 60\\660 75\\700 70\\725 40\\}
\Cd{955 42\\960 62\\985 62\\992 42\\}
\Cd{1145 72\\1160 50\\1200 45\\}
\Cd{1145 72\\1200 75\\}
\Cd{348 295\\400 280\\490 235\\580 212\\740 232\\860 232\\900 215\\1000 235\\1200 215\\}
\Cd{348 330\\470 315\\680 325\\850 340\\1000 330\\1200 335\\}
\Cd{440 730\\465 600\\470 500\\500 458\\610 450\\640 465\\740 458\\810 475\\860 465\\890 437\\750 430\\640 420\\550 415\\470 370\\348 368\\}
\Cd{348 398\\400 405\\440 430\\445 500\\445 600\\430 730\\}
\Cd{348 412\\390 430\\420 500\\430 720\\}
\Cd{225 425\\210 520\\235 640\\265 830\\}
\Cd{240 425\\222 520\\250 640\\280 800\\}
\Cd{262 425\\245 520\\265 640\\300 830\\}
\Cd{280 425\\258 520\\285 640\\320 830\\}
\Cd{298 425\\280 520\\305 640\\335 830\\}
\Cd{325 435\\310 510\\320 640\\340 840\\}
\Cd{380 845\\395 720\\375 550\\345 550\\335 700\\340 790\\}
\Cd{340 790\\330 690\\370 630\\400 720\\380 800\\}
\Cd{362 690\\375 690\\375 730\\362 730\\362 690\\}
\Cd{345 430\\390 520\\410 640\\400 850\\}
\Cd{362 432\\410 540\\420 680\\415 850\\}
\Cd{380 432\\425 560\\440 770\\435 850\\}
\Cd{1200 500\\1140 490\\1040 478\\970 475\\1020 465\\1110 480\\1200 470\\}
\Cd{435 850\\455 780\\470 650\\490 590\\520 550\\560 552\\640 575\\720 570\\850 570\\920 585\\1200 590\\}
\Cd{440 850\\480 740\\515 705\\690 710\\750 675\\1030 685\\1200 695\\}
\Cd{520 850\\520 832\\560 820\\680 820\\710 840\\710 860\\}
\Cd{830 870\\830 840\\920 825\\1000 825\\1045 855\\1045 875\\}
\Cd{1160 880\\1160 860\\1200 850\\}
\Ce{0 75\\40 70\\40 45\\}
\Ce{140 58\\150 75\\195 98\\270 80\\275 60\\}
\Ce{310 62\\320 85\\370 90\\375 62\\}
\Ce{0 215\\250 212\\370 225\\530 205\\610 175\\640 130\\640 72\\}
\Ce{0 330\\120 345\\280 350\\370 340\\470 365\\560 350\\600 300\\640 180\\650 72\\}
\Ce{0 460\\90 460\\190 490\\245 488\\220 505\\190 490\\110 515\\0 490\\}
\Ce{450 490\\570 490\\620 440\\620 375\\650 240\\660 72\\}
\Ce{450 490\\455 520\\540 545\\640 585\\720 565\\752 565\\}
\Ce{752 535\\655 535\\645 500\\660 380\\640 280\\670 150\\660 72\\}
\Ce{680 395\\745 480\\752 490\\}
\Ce{680 72\\685 110\\670 150\\690 220\\680 380\\700 430\\765 495\\}
\Ce{700 72\\700 130\\720 250\\735 265\\770 170\\780 100\\}
\Ce{720 72\\720 170\\735 225\\780 90\\}
\Ce{735 80\\730 170\\740 215\\755 180\\770 85\\}
\Ce{680 300\\730 355\\760 290\\790 95\\}
\Ce{770 490\\780 330\\800 280\\810 95\\}
\Ce{805 490\\800 390\\815 300\\830 95\\}
\Ce{825 495\\830 400\\835 300\\840 95\\}
\Ce{850 490\\860 420\\850 280\\855 95\\}
\Ce{875 95\\870 220\\900 340\\910 420\\900 500\\905 540\\945 570\\940 650\\1040 715\\1130 765\\}
\Ce{890 170\\935 225\\985 185\\1015 85\\}
\Ce{900 125\\940 165\\985 130\\985 85\\}
\Ce{905 110\\930 130\\965 115\\975 85\\}
\Ce{0 590\\230 595\\500 605\\630 625\\752 600\\}
\Ce{0 700\\110 685\\180 700\\300 695\\500 705\\620 700\\700 680\\752 650\\}
\Ce{0 850\\50 855\\50 880\\}
\Ce{310 885\\310 865\\480 865\\530 845\\680 850\\690 810\\715 775\\752 770\\}
\addplot[surf,shader=interp,mesh/cols=2] table[row sep=crcr,header=false,meta index=0,
  x expr={896+31*mod(\coordindex,2)},y expr={1028+(\thisrowno{0}+3.88)/5.14*280}] {
-3.88\\-3.88\\-3.76\\-3.76\\-3.44\\-3.44\\-3.11\\-3.11\\-2.79\\-2.79\\-2.46\\-2.46\\-2.13\\-2.13\\-1.81\\-1.81\\-1.48\\-1.48\\-1.15\\-1.15\\-.83\\-.83\\-.50\\-.50\\-.17\\-.17\\.15\\.15\\.48\\.48\\.81\\.81\\1.13\\1.13\\1.26\\1.26\\};
\node[anchor=west,inner sep=0pt] at (axis cs:897,1000) {\bigL[1.29]{Shear angle}};
\node[anchor=west,inner sep=0pt] at (axis cs:897,1017) {\bigL[1.29]{(° DEG)}};
\tkC{1035}{3.76}\tkC{1053}{3.44}\tkC{1070}{3.11}\tkC{1088}{2.79}\tkC{1106}{2.46}\tkC{1124}{2.13}\tkC{1141}{1.81}\tkC{1159}{1.48}\tkC{1177}{1.15}\tkC{1194}{0.83}\tkC{1212}{0.50}\tkC{1229}{0.17}
\lbC{1248}{0.15}\lbC{1265}{0.48}\lbC{1283}{0.81}\lbC{1300}{1.13}
\node[big] at (axis cs:1145,984) {IDNS};
\draw[dbl] (axis cs:-5,1122)--(axis cs:120,1122);
\fill[black!30] (axis cs:1124,1178) rectangle (axis cs:1167,1259);
\draw[line width=2pt] (axis cs:1124,1081) rectangle (axis cs:1167,1355);
\draw[line width=2pt] (axis cs:1143,1187)--(axis cs:1167,1187);
\draw[line width=2pt] (axis cs:1124,1248)--(axis cs:1148,1248);
\draw[bk] (axis cs:1145,1031)--(axis cs:1145,1077);
\draw[bk] (axis cs:1143,1403)--(axis cs:1143,1359);
\draw[gy] (axis cs:1216,1081)--(axis cs:1171,1081);
\draw[gy] (axis cs:1075,1187)--(axis cs:1120,1187);
\draw[gy] (axis cs:1213,1248)--(axis cs:1169,1248);
\draw[gy] (axis cs:1074,1353)--(axis cs:1120,1353);
\end{axis}
\end{tikzpicture}
\end{document}
